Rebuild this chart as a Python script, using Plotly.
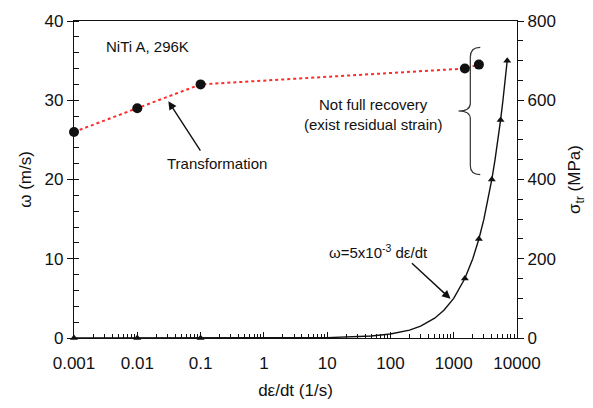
import plotly.graph_objects as go

# ---- data ----
rate_sigma = [0.001, 0.01, 0.1, 1500, 2500]          # d(eps)/dt (1/s)
sigma_tr = [520, 580, 640, 680, 690]                  # MPa (right axis)

rate_omega = [0.001, 0.01, 0.1, 1500, 2500, 4000, 5500, 7000]
omega = [0, 0, 0, 7.5, 12.5, 20, 27.5, 35]            # m/s (left axis)

fit_rate = [0.001, 1, 10, 50, 100, 200, 300, 500, 700, 1000, 1500, 2000,
            2500, 3000, 3500, 4000, 4500, 5000, 5500, 6000, 6500, 7000]
fit_omega = [0, 0.005, 0.05, 0.25, 0.5, 1.0, 1.5, 2.5, 3.5, 5.0, 7.5, 10.0,
             12.5, 15.0, 17.5, 20.0, 22.5, 25.0, 27.5, 30.0, 32.5, 35.0]

x_tickvals = [0.001, 0.01, 0.1, 1, 10, 100, 1000, 10000]
x_ticktext = ["0.001", "0.01", "0.1", "1", "10", "100", "1000", "10000"]
x_minor = [k * 10.0 ** e for e in range(-3, 4) for k in range(2, 10)]

FONT = "Liberation Sans, Arial, sans-serif"
INK = "#111111"

# plot area in pixels (for placing annotations)
W, H = 593, 408
L, R, T, B = 74, 520, 16, 340


def px_to_paper(px, py):
    return (px - L) / (R - L), (B - py) / (B - T)


fig = go.Figure()

fig.add_trace(go.Scatter(
    x=fit_rate, y=fit_omega, mode="lines",
    line=dict(color=INK, width=1.4), showlegend=False, hoverinfo="skip",
    cliponaxis=False))

fig.add_trace(go.Scatter(
    x=rate_omega, y=omega, mode="markers",
    marker=dict(symbol="triangle-up", size=7, color=INK),
    showlegend=False, cliponaxis=False))

fig.add_trace(go.Scatter(
    x=rate_sigma, y=sigma_tr, mode="lines+markers", yaxis="y2",
    line=dict(color="#ff2a2a", width=2, dash="dot"),
    marker=dict(symbol="circle", size=10, color=INK),
    showlegend=False, cliponaxis=False))

# brace (pixel coordinates converted to paper)
pts = {
    "a": (483, 43), "b": (473, 43), "c": (473, 53), "d": (473, 100),
    "e": (473, 108), "f": (461, 108), "g": (473, 108), "h": (473, 116),
    "i": (473, 164), "j": (473, 173), "k": (483, 173),
}
P = {k: px_to_paper(*v) for k, v in pts.items()}


def s(k):
    return f"{P[k][0]:.5f},{P[k][1]:.5f}"


brace_path = (f"M {s('a')} Q {s('b')} {s('c')} L {s('d')} Q {s('e')} {s('f')} "
              f"Q {s('g')} {s('h')} L {s('i')} Q {s('j')} {s('k')}")
fig.add_shape(type="path", path=brace_path, xref="paper", yref="paper",
              line=dict(color="#333333", width=1.2))

ann_font = dict(family=FONT, size=15, color=INK)
annotations = []


def add_text(text, px, py, xanchor="center"):
    x, y = px_to_paper(px, py)
    annotations.append(dict(text=text, x=x, y=y, xref="paper", yref="paper",
                            xanchor=xanchor, yanchor="middle", showarrow=False,
                            font=ann_font))


def add_arrow(tail, head):
    x, y = px_to_paper(*head)
    annotations.append(dict(text="", x=x, y=y, xref="paper", yref="paper",
                            ax=tail[0] - head[0], ay=tail[1] - head[1],
                            showarrow=True, arrowhead=2, arrowsize=1.2,
                            arrowwidth=1.4, arrowcolor=INK))


add_text("NiTi A, 296K", 104, 42, "left")
add_text("Transformation", 218, 162)
add_arrow((202, 149), (169, 98))
add_text("Not full recovery<br>(exist residual strain)", 375, 112)
add_text("ω=5x10<sup>-3</sup> dε/dt", 381, 252)
add_arrow((413, 263), (453, 300))

fig.update_layout(
    width=W, height=H,
    margin=dict(l=L, r=W - R, t=T, b=H - B),
    paper_bgcolor="white", plot_bgcolor="white",
    font=dict(family=FONT, size=16, color=INK),
    annotations=annotations,
    xaxis=dict(
        type="log", range=[-3, 4],
        tickmode="array", tickvals=x_tickvals, ticktext=x_ticktext,
        ticks="inside", ticklen=6, tickwidth=1, tickcolor=INK,
        minor=dict(tickmode="array", tickvals=x_minor, ticks="inside",
                   ticklen=4, tickwidth=1, tickcolor=INK, showgrid=False),
        showline=True, linecolor=INK, linewidth=1.2, mirror=True,
        showgrid=False, zeroline=False, ticklabelstandoff=9,
        tickfont=dict(size=17),
        title=dict(text="dε/dt (1/s)", font=dict(size=17), standoff=12),
    ),
    yaxis=dict(
        range=[0, 40], tickvals=[0, 10, 20, 30, 40],
        ticks="outside", ticklen=6, tickwidth=1, tickcolor=INK,
        minor=dict(dtick=2, ticks="inside", ticklen=5, tickwidth=1,
                   tickcolor=INK, showgrid=False),
        showline=True, linecolor=INK, linewidth=1.2,
        showgrid=False, zeroline=False,
        tickfont=dict(size=17),
        title=dict(text="ω (m/s)", font=dict(size=17), standoff=8),
    ),
    yaxis2=dict(
        overlaying="y", side="right",
        range=[0, 800], tickvals=[0, 200, 400, 600, 800],
        ticks="outside", ticklen=6, tickwidth=1, tickcolor=INK,
        minor=dict(dtick=50, ticks="outside", ticklen=5, tickwidth=1,
                   tickcolor=INK, showgrid=False),
        showline=True, linecolor=INK, linewidth=1.2,
        showgrid=False, zeroline=False,
        tickfont=dict(size=17),
        title=dict(text="σ<sub>tr</sub> (MPa)", font=dict(size=17), standoff=13),
    ),
)

fig.write_html("out.html",
               config={"displayModeBar": False},
               post_script="document.body.style.margin='0';"
                           "document.body.style.overflow='hidden';")
